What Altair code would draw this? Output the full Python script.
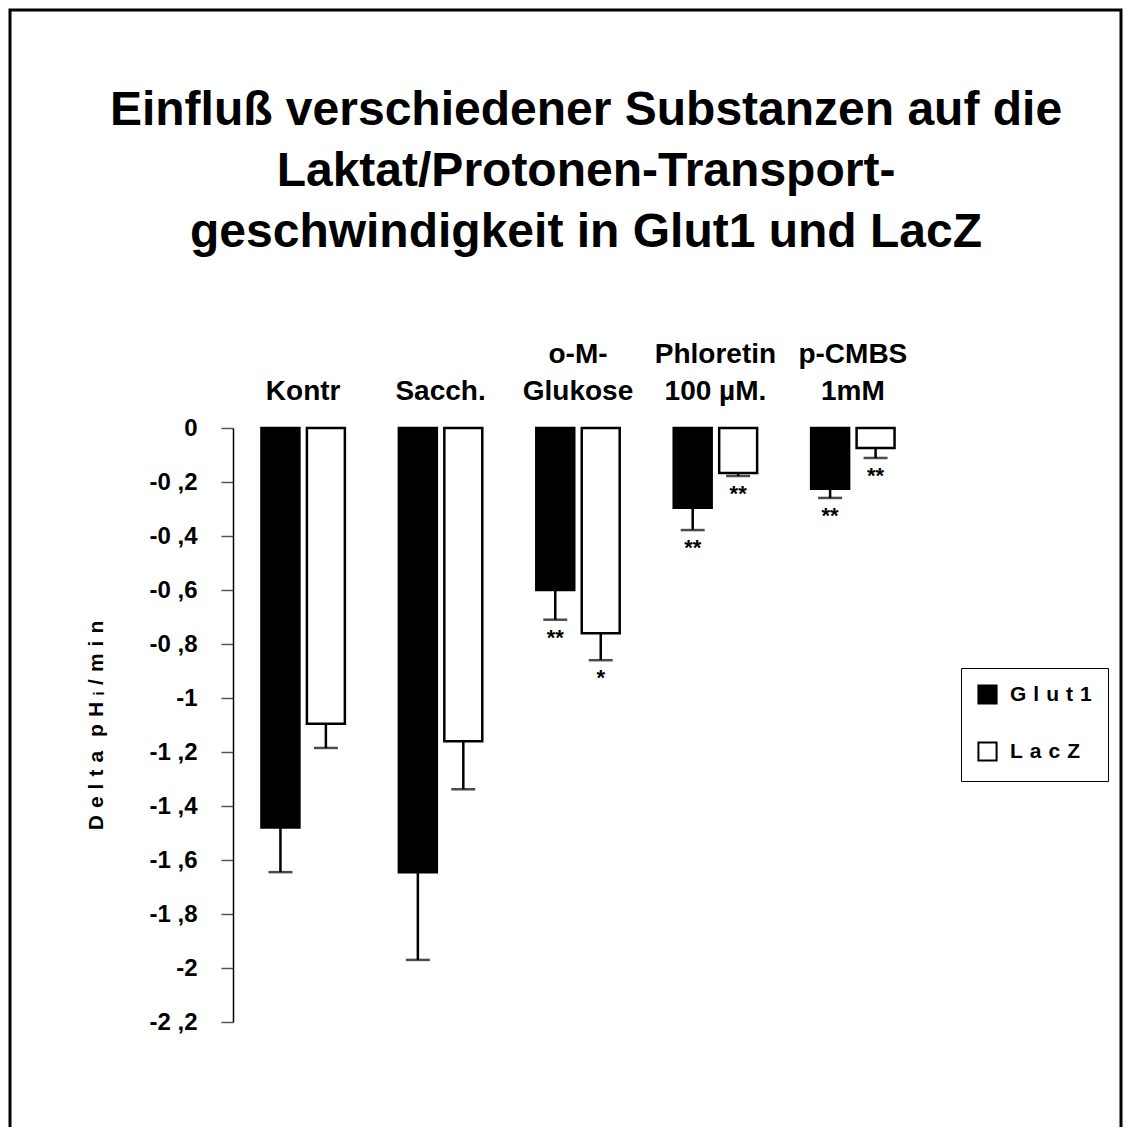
import altair as alt
import pandas as pd

categories = ["|Kontr", "|Sacch.", "o-M-|Glukose", "Phloretin|100 µM.", "p-CMBS|1mM"]
series = ["Glut1", "LacZ"]
glut1 = [-1.48, -1.645, -0.60, -0.295, -0.225]
glut1_err = [0.165, 0.325, 0.11, 0.083, 0.034]
lacz = [-1.095, -1.16, -0.76, -0.167, -0.074]
lacz_err = [0.09, 0.178, 0.10, 0.011, 0.037]
glut1_sig = ["", "", "**", "**", "**"]
lacz_sig = ["", "", "*", "**", "**"]
y_ticks = [0, -0.2, -0.4, -0.6, -0.8, -1.0, -1.2, -1.4, -1.6, -1.8, -2.0, -2.2]
title_lines = ["Einfluß verschiedener Substanzen auf die",
               "Laktat/Protonen-Transport-",
               "geschwindigkeit in Glut1 und LacZ"]
y_title = "\u2004".join("Delta") + "\u2004\u2004" + "\u2004".join(["p", "H", "ᵢ", "/", "m", "i", "n"])

rows = []
for i, c in enumerate(categories):
    rows.append({"category": c, "series": "Glut1", "value": glut1[i], "err": glut1_err[i], "sig": glut1_sig[i]})
    rows.append({"category": c, "series": "LacZ", "value": lacz[i], "err": lacz_err[i], "sig": lacz_sig[i]})
df = pd.DataFrame(rows)
df["lower"] = df["value"] - df["err"]

FONT = "Liberation Sans"
W, H = 690, 594

x_enc = alt.X(
    "category:N", sort=categories,
    scale=alt.Scale(paddingInner=0.393, paddingOuter=0.207),
    axis=alt.Axis(orient="top", domain=False, ticks=False, labelAngle=0,
                  labelExpr="split(datum.label, '|')",
                  labelFont=FONT, labelFontSize=28, labelFontWeight="bold",
                  labelColor="black", labelLineHeight=37, labelBaseline="bottom",
                  labelPadding=60, title=None),
)
xo_enc = alt.XOffset("series:N", sort=series, scale=alt.Scale(paddingInner=0.165, paddingOuter=0))
y_scale = alt.Scale(domain=[-2.2, 0], nice=False, zero=False)

bars_base = alt.Chart(df).encode(x=x_enc, xOffset=xo_enc)

bars = bars_base.mark_bar(stroke="black", strokeWidth=2.5).encode(
    y=alt.Y("value:Q", scale=y_scale,
            axis=alt.Axis(values=y_ticks, grid=False,
                          labelExpr="(datum.value < 0 ? '-' : '') + replace(format(abs(datum.value), '.1~f'), '.', ' ,')",
                          labelFont=FONT, labelFontSize=24, labelFontWeight="bold", labelColor="black",
                          labelPadding=24, tickSize=12, tickColor="#555555", tickWidth=1.5,
                          domainColor="black", domainWidth=1.5,
                          title=y_title, titleFont=FONT, titleFontSize=21,
                          titleFontWeight="bold", titleColor="black", titlePadding=42)),
    color=alt.Color("series:N", sort=series,
                    scale=alt.Scale(domain=series, range=["black", "white"]),
                    legend=alt.Legend(title=None, orient="none", legendX=728, legendY=240,
                                      strokeColor="black", padding=16, symbolType="square",
                                      symbolSize=330, symbolStrokeColor="black", symbolStrokeWidth=2,
                                      labelFont=FONT, labelFontSize=21, labelFontWeight="bold",
                                      labelColor="black", rowPadding=30, labelOffset=12,
                                      labelExpr="join(split(datum.label, ''), '\u2004') + '\u2004'")),
)

rules = bars_base.mark_rule(color="black", strokeWidth=2.5).encode(
    y=alt.Y("value:Q", scale=y_scale), y2="lower:Q")

caps = bars_base.mark_tick(color="black", thickness=2.5, size=24).encode(
    y=alt.Y("lower:Q", scale=y_scale))

stars = bars_base.mark_text(baseline="top", dy=8, fontSize=22, fontWeight="bold", font=FONT, color="black").encode(
    y=alt.Y("lower:Q", scale=y_scale), text="sig:N")

border = alt.Chart(pd.DataFrame({"a": [0]})).mark_rect(fill=None, stroke="black", strokeWidth=3).encode(
    x=alt.value(-223), x2=alt.value(888), y=alt.value(-418), y2=alt.value(H + 200))

chart = alt.layer(border, bars, rules, caps, stars).properties(
    width=W, height=H,
    title=alt.Title(title_lines, font=FONT, fontSize=48, fontWeight="bold", color="black",
                    anchor="middle", frame="group", offset=-248, dx=8, lineHeight=61),
    autosize=alt.AutoSizeParams(type="none"),
    padding={"left": 225, "top": 420, "right": 200, "bottom": 105},
    background="white",
).configure(view=alt.ViewConfig(stroke=None))

chart.save("out.html", embed_options={"renderer": "svg", "actions": False})
